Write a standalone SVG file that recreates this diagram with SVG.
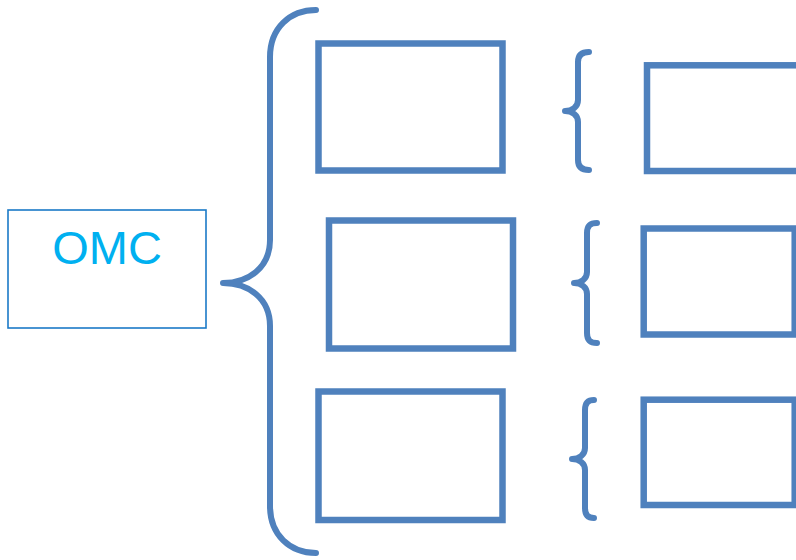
<svg xmlns="http://www.w3.org/2000/svg" width="796" height="560" viewBox="0 0 796 560">
<style>
.box{fill:none;stroke:#4F81BD;stroke-width:6.5}
.br{fill:none;stroke:#4F81BD;stroke-width:6;stroke-linecap:round;stroke-linejoin:round}
.omc{fill:#FFFFFF;stroke:#1B7AC7;stroke-width:1.6}
.t{font-family:"Liberation Sans",Arial,sans-serif;font-size:47px;fill:#00B0F0}
</style>
<rect width="796" height="560" fill="#FFFFFF"/>
<g id="omc">
<rect class="omc" x="8" y="210" width="198" height="118"/>
<text class="t" x="107" y="264" text-anchor="middle">OMC</text>
</g>
<g id="connectors">
<path id="brace-main" class="br" d="M316,10 C290,10 270,28 270,57 L270,240 C270,268 248,283 223,283 C248,283 270,298 270,326 L270,506 C270,535 290,553 316,553"/>
<path id="brace-1" class="br" d="M589,52 C582,52 578,55 578,62 L578,100 C578,107 572,111 565,111 C572,111 578,115 578,122 L578,160 C578,167 582,170 589,170"/>
<path id="brace-2" class="br" d="M597,223 C590,223 587,226 587,233 L587,272 C587,279 581,283 574,283 C581,283 587,287 587,294 L587,333 C587,340 590,343 597,343"/>
<path id="brace-3" class="br" d="M594,400 C588,400 585,403 585,410 L585,448 C585,455 579,459 572,459 C579,459 585,463 585,470 L585,508 C585,515 588,518 594,518"/>
</g>
<g id="box-1"><rect class="box" x="318.5" y="43.5" width="184" height="127"/></g>
<g id="box-2"><rect class="box" x="329" y="220.5" width="184" height="128"/></g>
<g id="box-3"><rect class="box" x="318.5" y="391.5" width="184" height="128.5"/></g>
<g id="box-r1"><rect class="box" x="647" y="65.3" width="160" height="105.7"/></g>
<g id="box-r2"><rect class="box" x="643.7" y="228.5" width="151" height="106"/></g>
<g id="box-r3"><rect class="box" x="643.7" y="399.7" width="151" height="105.3"/></g>
</svg>
